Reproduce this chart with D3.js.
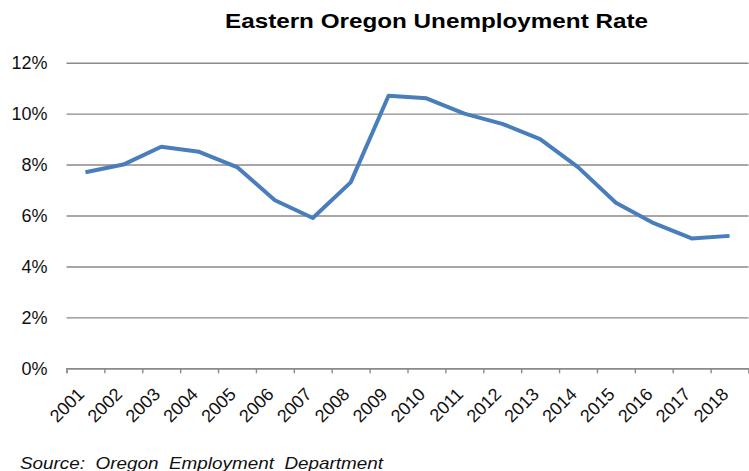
<!DOCTYPE html>
<html>
<head>
<meta charset="utf-8">
<script src="https://cdn.jsdelivr.net/npm/d3@7"></script>
<style>
  html, body { margin: 0; padding: 0; background: #fff; }
  svg { display: block; font-family: "Liberation Sans", Arial, sans-serif; }
</style>
</head>
<body>
<svg id="chart" width="749" height="471"></svg>
<script>
// Annual unemployment rate, Eastern Oregon (percent)
const years = ["2001","2002","2003","2004","2005","2006","2007","2008","2009",
               "2010","2011","2012","2013","2014","2015","2016","2017","2018"];
const rates = [7.7, 8.0, 8.7, 8.5, 7.9, 6.6, 5.9, 7.3, 10.7,
               10.6, 10.0, 9.6, 9.0, 7.9, 6.5, 5.7, 5.1, 5.2];
const yTicks = [0, 2, 4, 6, 8, 10, 12];
const titleText = "Eastern Oregon Unemployment Rate";
const sourceText = "Source:  Oregon  Employment  Department";

const svg = d3.select("#chart");
const plotLeft = 66.5, plotRight = 748.5, plotTop = 62.7, plotBottom = 368.3;

const x = d3.scaleBand().domain(years).range([plotLeft, plotRight]).padding(0);
const y = d3.scaleLinear().domain([0, 12]).range([plotBottom, plotTop]);
const edge = d3.scaleLinear().domain([0, years.length]).range([plotLeft, plotRight]);

// Horizontal gridlines with percent labels
const yAxis = svg.append("g")
  .attr("transform", `translate(${plotLeft},0)`)
  .call(d3.axisLeft(y).tickValues(yTicks).tickSize(-(plotRight - plotLeft))
    .tickPadding(19).tickFormat(d => d + "%"));
yAxis.select(".domain").remove();
yAxis.selectAll(".tick line").attr("stroke", "#8a8a8a").attr("stroke-width", 1.4);
yAxis.selectAll(".tick text")
  .attr("font-size", 18).attr("fill", "#111")
  .attr("font-family", "'Liberation Sans', Arial, sans-serif");

// Category axis: tick marks sit between the years
const tickAxis = svg.append("g")
  .attr("transform", `translate(0,${plotBottom})`)
  .call(d3.axisBottom(edge).tickValues(d3.range(years.length + 1))
    .tickSize(5).tickFormat(""));
tickAxis.select(".domain").attr("stroke", "#8a8a8a").attr("stroke-width", 1.4);
tickAxis.selectAll(".tick line").attr("stroke", "#8a8a8a").attr("stroke-width", 1.4);

// Rotated year labels
const xAxis = svg.append("g")
  .attr("transform", `translate(0,${plotBottom})`)
  .call(d3.axisBottom(x).tickSize(0).tickPadding(0));
xAxis.select(".domain").remove();
xAxis.selectAll(".tick text")
  .attr("font-size", 18).attr("fill", "#111")
  .attr("font-family", "'Liberation Sans', Arial, sans-serif")
  .attr("text-anchor", "end")
  .attr("dy", null)
  .attr("y", 0)
  .attr("transform", "translate(0,27) rotate(-45)");

// Rate line
const line = d3.line()
  .x((d, i) => x(years[i]) + x.bandwidth() / 2)
  .y(d => y(d));
svg.append("path")
  .datum(rates)
  .attr("d", line)
  .attr("fill", "none")
  .attr("stroke", "#4a7ebb")
  .attr("stroke-width", 4)
  .attr("stroke-linejoin", "round");

// Title
svg.append("text")
  .attr("x", 436.5).attr("y", 28)
  .attr("text-anchor", "middle")
  .attr("font-size", 21).attr("font-weight", "bold").attr("fill", "#000")
  .attr("textLength", 423).attr("lengthAdjust", "spacingAndGlyphs")
  .text(titleText);

// Source note
svg.append("text")
  .attr("x", 20).attr("y", 469)
  .attr("font-size", 16.5).attr("font-style", "italic").attr("fill", "#111")
  .attr("textLength", 363).attr("lengthAdjust", "spacingAndGlyphs")
  .style("white-space", "pre")
  .text(sourceText);
</script>
</body>
</html>
